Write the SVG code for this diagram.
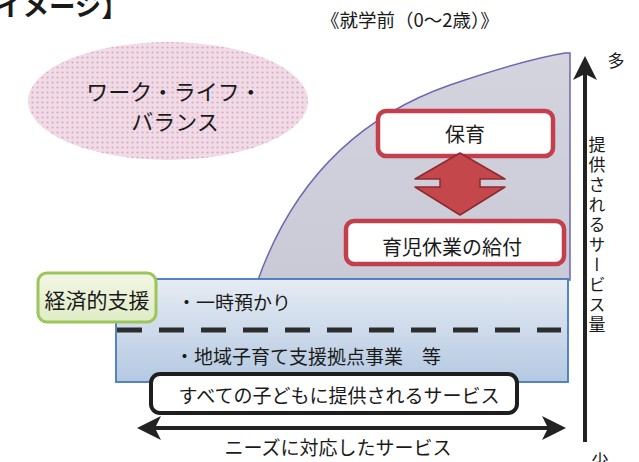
<svg xmlns="http://www.w3.org/2000/svg" width="639" height="462" viewBox="0 0 639 462">
<defs>
<style>
.t{font-family:"Noto Sans CJK JP","Noto Sans",sans-serif;fill:#1a1a1a;}
.red{fill:#ffffff;stroke:#c23f4b;stroke-width:4.5;}
</style>
<pattern id="dots" width="5" height="5" patternUnits="userSpaceOnUse">
<rect width="5" height="5" fill="#f1dbe6"/>
<circle cx="2.5" cy="2.5" r="1.1" fill="#d9a8c2"/>
</pattern>
<linearGradient id="blue" x1="0" y1="0" x2="0" y2="1">
<stop offset="0" stop-color="#e6ecf3"/>
<stop offset="1" stop-color="#b4c9e2"/>
</linearGradient>
<linearGradient id="green" x1="0" y1="0" x2="0" y2="1">
<stop offset="0" stop-color="#f2f7e4"/>
<stop offset="1" stop-color="#dfebc6"/>
</linearGradient>
<linearGradient id="gray" x1="0" y1="0" x2="0" y2="1">
<stop offset="0" stop-color="#d3d4de"/>
<stop offset="1" stop-color="#c9cad6"/>
</linearGradient>
<marker id="ah" viewBox="0 0 12 12" refX="10" refY="6" markerWidth="7.5" markerHeight="6" orient="auto-start-reverse" markerUnits="strokeWidth">
<path d="M0,0 L12,6 L0,12 L3,6 Z" fill="#222"/>
</marker>
</defs>
<rect width="639" height="462" fill="#ffffff"/>

<text class="t" x="-4" y="16" font-size="26.5" font-weight="bold">イメージ】</text>
<text class="t" x="321" y="27" font-size="18.5">《就学前（0～2歳）》</text>

<g id="service-area">
<path d="M258,280 C290,190 350,120 450,85 C500,68 540,57 565,53 L570,53 L570,280 Z" fill="url(#gray)" stroke="#6f66b2" stroke-width="1.5"/>
</g>

<g id="wlb">
<ellipse cx="168" cy="101" rx="140" ry="59" fill="url(#dots)"/>
<text class="t" x="174" y="100" font-size="22" text-anchor="middle">ワーク・ライフ・</text>
<text class="t" x="175" y="130" font-size="22" text-anchor="middle">バランス</text>
</g>

<g id="band">
<rect x="116" y="279" width="452" height="103" fill="url(#blue)" stroke="#4579bd" stroke-width="1.8"/>
<line x1="117" y1="330" x2="561" y2="330" stroke="#2d2d2d" stroke-width="5" stroke-dasharray="25 17"/>
<text class="t" x="177" y="310" font-size="19">・一時預かり</text>
<text class="t" x="175" y="364" font-size="19">・地域子育て支援拠点事業　等</text>
</g>

<g id="hoiku">
<rect class="red" x="378" y="111" width="175" height="45" rx="8"/>
<text class="t" x="465" y="142" font-size="20" text-anchor="middle">保育</text>
</g>

<g id="ikuji">
<rect class="red" x="346" y="221" width="218" height="43" rx="8"/>
<text class="t" x="452" y="255" font-size="20" text-anchor="middle">育児休業の給付</text>
</g>

<g id="keizai">
<rect x="38" y="273" width="118" height="49" rx="9" fill="url(#green)" stroke="#9cc65a" stroke-width="3"/>
<text class="t" x="97" y="308" font-size="21" text-anchor="middle">経済的支援</text>
</g>

<g id="all-children">
<rect x="151" y="374" width="366" height="39" rx="9" fill="#ffffff" stroke="#1e1e1e" stroke-width="4"/>
<text class="t" x="339" y="403" font-size="19" text-anchor="middle">すべての子どもに提供されるサービス</text>
</g>

<g id="connectors">
<polygon points="460,153 505,179 480,179 480,187 505,187 460,215 415,187 440,187 440,179 415,179" fill="#c4474b" stroke="#8e2a30" stroke-width="1.5" stroke-linejoin="round"/>
<line x1="141" y1="428" x2="562" y2="428" stroke="#222" stroke-width="4" marker-start="url(#ah)" marker-end="url(#ah)"/>
<line x1="585" y1="442" x2="585" y2="60" stroke="#222" stroke-width="4" marker-end="url(#ah)"/>
</g>

<g id="axis-labels">
<text class="t" x="616" y="67" font-size="17" text-anchor="middle">多</text>
<text class="t" x="597" y="136" font-size="17" letter-spacing="3" style="writing-mode:vertical-rl">提供されるサービス量</text>
<text class="t" x="600" y="467" font-size="17" text-anchor="middle">少</text>
<text class="t" x="338" y="455" font-size="19" text-anchor="middle">ニーズに対応したサービス</text>
</g>
</svg>
